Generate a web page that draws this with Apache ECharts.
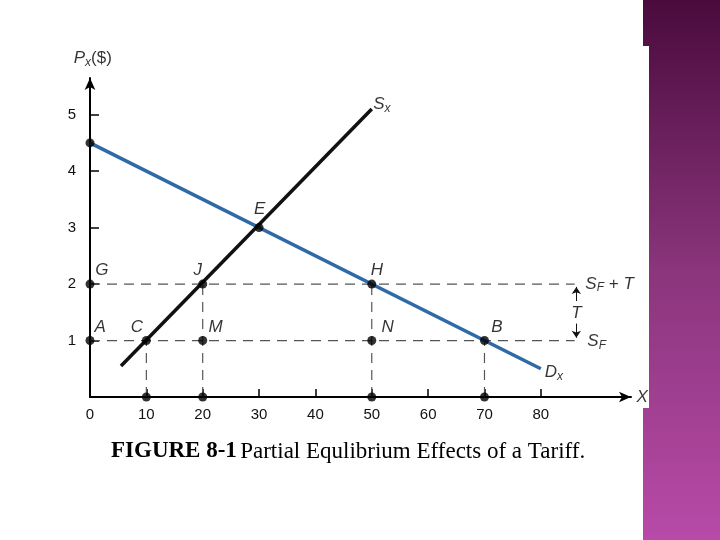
<!DOCTYPE html>
<html><head><meta charset="utf-8">
<script src="https://cdn.jsdelivr.net/npm/echarts@6/dist/echarts.min.js"></script>
<style>body{margin:0;background:#fff}#c{width:720px;height:540px}</style>
</head><body><div id="c"></div>
<script>
// supply, demand, points, labels
const supply = [[5.5, 0.55], [50, 5.1]];
const demand = [[0, 4.5], [80, 0.5]];
const dots = [[0,4.5],[0,2],[0,1],[10,1],[20,1],[20,2],[30,3],[50,2],[50,1],[70,1],[10,0],[20,0],[50,0],[70,0]];
const hDashes = [[[0,2],[86,2]], [[0,1],[86,1]]];
const vDashes = [[[10,0],[10,1]], [[20,0],[20,2]], [[50,0],[50,2]], [[70,0],[70,1]]];
const pointLabels = [
  ['{i|G}', 2.1, 2.25], ['{i|A}', 1.8, 1.24], ['{i|C}', 8.3, 1.24], ['{i|M}', 22.3, 1.24],
  ['{i|J}', 19.1, 2.25], ['{i|E}', 30.1, 3.32], ['{i|H}', 50.9, 2.25], ['{i|N}', 52.8, 1.24],
  ['{i|B}', 72.2, 1.24], ['{i|S}{s|x}', 51.8, 5.18], ['{i|D}{s|x}', 82.3, 0.43],
  ['{i|S}{s|F}{n| + }{i|T}', 92.2, 2.0], ['{i|T}', 86.3, 1.49], ['{i|S}{s|F}', 89.9, 0.98],
  ['{i|X}', 98, 0], ['{i|P}{s|x}{n|($)}', 0.5, 6.0]
];
const xTicks = [0, 10, 20, 30, 40, 50, 60, 70, 80];
const yTicks = [1, 2, 3, 4, 5];

const chart = echarts.init(document.getElementById('c'));
const dashStyle = {color: '#555', width: 1.2, type: [10, 7]};
const rich = {
  i: {fontStyle: 'italic', fontSize: 17, fontFamily: 'Liberation Sans', color: '#000'},
  s: {fontStyle: 'italic', fontSize: 12, fontFamily: 'Liberation Sans', color: '#000', verticalAlign: 'bottom', padding: [8, 0, 0, 0]},
  n: {fontSize: 17, fontFamily: 'Liberation Sans', color: '#000'}
};
const series = [];
hDashes.concat(vDashes).forEach(d => series.push({type: 'line', data: d, symbol: 'none', lineStyle: dashStyle, silent: true}));
series.push({type: 'line', data: demand, symbol: 'none', lineStyle: {color: '#2e6aa8', width: 3.5}});
series.push({type: 'line', data: supply, symbol: 'none', lineStyle: {color: '#111', width: 3.5}});
series.push({type: 'scatter', data: dots, symbolSize: 9, itemStyle: {color: '#000'}, z: 5});
series.push({
  type: 'scatter', clip: false, symbolSize: 0,
  data: pointLabels.map(p => ({value: [p[1], p[2]], name: p[0]})),
  label: {show: true, position: 'inside', formatter: p => p.name, rich: rich}
});
series.push({
  type: 'line', data: [], symbol: 'none',
  markLine: {silent: true, symbol: ['none', 'arrow'], symbolSize: 7, label: {show: false},
    lineStyle: {color: '#111', width: 1, type: 'solid'},
    data: [[{coord: [86.3, 1.7]}, {coord: [86.3, 1.95]}], [{coord: [86.3, 1.3]}, {coord: [86.3, 1.05]}]]}
});

chart.setOption({
  animation: false,
  grid: {left: 90, right: 89, top: 78, bottom: 143},
  xAxis: {
    type: 'value', min: 0, max: 96, interval: 10,
    axisLine: {lineStyle: {color: '#000', width: 2}, symbol: ['none', 'arrow'], symbolSize: [8, 12]},
    axisTick: {inside: true, length: 8, lineStyle: {color: '#000', width: 1.5}, customValues: xTicks.slice(1)},
    axisLabel: {color: '#111', fontSize: 15, fontFamily: 'Liberation Sans', margin: 10, customValues: xTicks},
    splitLine: {show: false}
  },
  yAxis: {
    type: 'value', min: 0, max: 5.65,
    axisLine: {lineStyle: {color: '#000', width: 2}, symbol: ['none', 'arrow'], symbolSize: [8, 12]},
    axisTick: {inside: true, length: 9, lineStyle: {color: '#000', width: 1.5}, customValues: yTicks},
    axisLabel: {color: '#111', fontSize: 15, fontFamily: 'Liberation Sans', margin: 14, customValues: yTicks},
    splitLine: {show: false}
  },
  series: series,
  graphic: [
    {type: 'rect', left: 643, top: 0, shape: {width: 77, height: 540}, z: -10,
      style: {fill: new echarts.graphic.LinearGradient(0, 0, 0, 1, [{offset: 0, color: '#4a0b3c'}, {offset: 0.5, color: '#8a357c'}, {offset: 1, color: '#b84aa8'}])}},
    {type: 'rect', left: 643, top: 46, shape: {width: 6, height: 362}, z: -9, style: {fill: '#fff'}},
    {type: 'text', left: 111, top: 440, z: 10,
      style: {text: '{b|FIGURE 8-1} {r|Partial Equlibrium Effects of a Tariff.}',
        rich: {b: {fontWeight: 'bold', fontSize: 23, fontFamily: 'Liberation Serif', color: '#000'},
               r: {fontSize: 23, fontFamily: 'Liberation Serif', color: '#000'}}}}
  ]
});
</script></body></html>
